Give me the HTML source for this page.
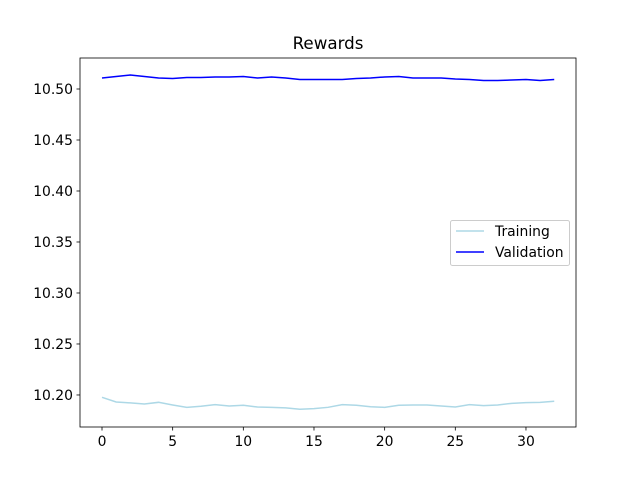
<!DOCTYPE html>
<html><head><meta charset="utf-8"><style>
body{margin:0;background:#fff}
svg text{font-family:"DejaVu Sans","Liberation Sans",sans-serif;font-size:13.9px;fill:#000}
</style></head><body>
<svg id="chart" width="640" height="480">
<rect width="640" height="480" fill="#fff"/>
<text x="328" y="49" text-anchor="middle" style="font-size:16.7px">Rewards</text>
<g id="plot"></g>
</svg>
<script>
const epochs=[...Array(33).keys()];
const training=[10.1977,10.1931,10.1922,10.1912,10.1928,10.1902,10.1879,10.1889,10.1905,10.1892,10.1899,10.1882,10.1879,10.1873,10.1860,10.1866,10.1879,10.1905,10.1899,10.1885,10.1879,10.1899,10.1902,10.1902,10.1892,10.1882,10.1905,10.1895,10.1902,10.1918,10.1925,10.1928,10.1938];
const validation=[10.5108,10.5123,10.5137,10.5123,10.5108,10.5103,10.5113,10.5113,10.5118,10.5118,10.5123,10.5108,10.5118,10.5108,10.5093,10.5093,10.5093,10.5093,10.5103,10.5108,10.5118,10.5123,10.5108,10.5108,10.5108,10.5098,10.5093,10.5083,10.5083,10.5088,10.5093,10.5083,10.5093];
const xTicks=[0,5,10,15,20,25,30];
const yTicks=[10.20,10.25,10.30,10.35,10.40,10.45,10.50];
const L=80,R=576,T=58,B=427;
const xMin=-1.557,xMax=33.54,yMin=10.1686,yMax=10.5304;
const xs=v=>L+(v-xMin)/(xMax-xMin)*(R-L);
const ys=v=>B-(v-yMin)/(yMax-yMin)*(B-T);
const NS="http://www.w3.org/2000/svg";
const g=document.getElementById('plot');
function mk(t,a){const e=document.createElementNS(NS,t);for(const k in a)e.setAttribute(k,a[k]);g.appendChild(e);return e;}
xTicks.forEach(v=>{
 const l=mk('line',{x1:xs(v),x2:xs(v),y1:B,y2:B+3.5,stroke:'#000','stroke-width':0.8});
 
 
 const t=mk('text',{x:xs(v),y:B+19,'text-anchor':'middle'});t.textContent=v;
 
 
});
yTicks.forEach(v=>{
 const l=mk('line',{x1:L-3.5,x2:L,y1:ys(v),y2:ys(v),stroke:'#000','stroke-width':0.8});
 
 
 const t=mk('text',{x:L-7,y:ys(v)+5,'text-anchor':'end'});t.textContent=v.toFixed(2);
 
 
});
function line(data,color,name){
 const p=mk('polyline',{points:data.map((v,i)=>xs(epochs[i])+','+ys(v)).join(' '),fill:'none',stroke:color,'stroke-width':1.5});
 
 
}
line(training,'#add8e6','training-line');
line(validation,'#0000ff','validation-line');
const fr=mk('rect',{x:L,y:T,width:R-L,height:B-T,fill:'none',stroke:'#000','stroke-width':0.8});


const lg=mk('rect',{x:450.5,y:220.5,width:119,height:45,fill:'#fff',stroke:'#ccc',rx:2});


[['Training','#add8e6',231],['Validation','#0000ff',252]].forEach(([n,c,y])=>{
 const l=mk('line',{x1:456,x2:484,y1:y,y2:y,stroke:c,'stroke-width':1.5});
 
 
 const t=mk('text',{x:495,y:y+5});t.textContent=n;
 
 
});
</script>
</body></html>
